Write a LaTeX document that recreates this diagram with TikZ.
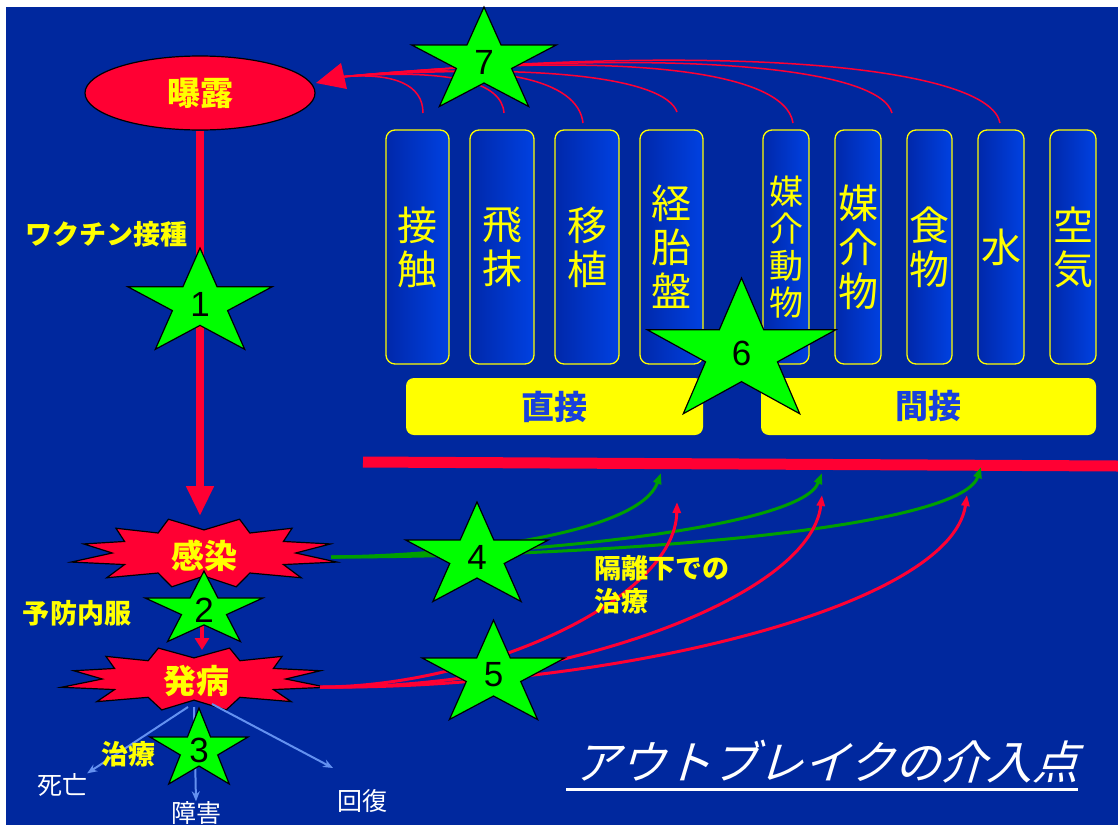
\documentclass[tikz,border=0pt]{standalone}
\usepackage{fontspec}
\newfontfamily\jp{Noto Sans CJK JP}
\newfontfamily\jpsl{Noto Sans CJK JP}[FakeSlant=0.3]
\newfontfamily\arialf{Liberation Sans}
\usetikzlibrary{arrows.meta,shapes.geometric}
\definecolor{bgblue}{RGB}{0,40,158}
\definecolor{myred}{RGB}{255,0,51}
\definecolor{myyellow}{RGB}{255,255,0}
\definecolor{stargreen}{RGB}{0,255,0}
\definecolor{arrgreen}{RGB}{0,160,0}
\definecolor{ltblue}{RGB}{100,145,240}
\definecolor{colA}{RGB}{0,40,170}
\definecolor{colB}{RGB}{0,65,225}
\definecolor{barblue}{RGB}{25,65,220}
% green five-pointed star: name, cx, cy, rx, ry, label
\newcommand\gstar[6]{%
  \pgfmathsetmacro\rxo{#4}\pgfmathsetmacro\ryo{#5}%
  \pgfmathsetmacro\rxi{0.382*#4}\pgfmathsetmacro\ryi{0.382*#5}%
  \begin{scope}[shift={(#2,#3)}]
    \filldraw[starsty] (90:\rxo pt and \ryo pt) -- (126:\rxi pt and \ryi pt)
      -- (162:\rxo pt and \ryo pt) -- (198:\rxi pt and \ryi pt)
      -- (234:\rxo pt and \ryo pt) -- (270:\rxi pt and \ryi pt)
      -- (306:\rxo pt and \ryo pt) -- (342:\rxi pt and \ryi pt)
      -- (18:\rxo pt and \ryo pt) -- (54:\rxi pt and \ryi pt) -- cycle;
  \end{scope}
  \node[numsty] (#1) at (#2,#3) {#6};%
}
% explosion burst: cx, cy, rx, ry
\newcommand\mkburst[4]{%
  \begin{scope}[shift={(#1,#2)}]
    \filldraw[burststy] (15:#3pt and #4pt)
      \foreach \k [evaluate=\k as \a using 15+\k*15,
                   evaluate=\k as \fx using {mod(\k,2)==0 ? #3*(1-0.07*sin(3*\a)) : 0.7*#3},
                   evaluate=\k as \fy using {mod(\k,2)==0 ? #4 : 0.66*#4}] in {1,...,23}
      { -- (\a:\fx pt and \fy pt) } -- cycle;
  \end{scope}%
}
\begin{document}
\begin{tikzpicture}[x=1pt,y=-1pt,
  burststy/.style={fill=myred,draw=black,line width=1.2pt},
  starsty/.style={fill=stargreen,draw=black,line width=1.2pt},
  numsty/.style={font=\arialf\fontsize{35}{35}\selectfont,text=black,inner sep=0pt},
  boldlbl/.style={font=\jp\bfseries\fontsize{27}{33}\selectfont,text=myyellow,inner sep=0pt},
  bursttxt/.style={font=\jp\bfseries\fontsize{33}{33}\selectfont,text=myyellow,inner sep=0pt},
  colbox/.style={draw=myyellow,line width=1.3pt,rounded corners=9pt,left color=colA,right color=colB,
                 minimum height=234pt,text=myyellow,align=center,inner sep=0pt,
                 font=\jp\fontsize{40}{44}\selectfont},
  bar/.style={fill=myyellow,rounded corners=8pt,minimum height=57pt,text=barblue,
              font=\jp\bfseries\fontsize{33}{33}\selectfont,inner sep=0pt},
  outcome/.style={font=\jp\fontsize{25}{25}\selectfont,text=white,inner sep=0pt},
  thinred/.style={myred,line width=1.5pt},
  greenarr/.style={arrgreen,line width=3pt,-{Triangle[length=11pt,width=8pt]}},
  redarr/.style={myred,line width=3pt,-{Triangle[length=11pt,width=8pt]}},
  bluearr/.style={ltblue,line width=2pt,-{Stealth[length=10pt,width=8pt]}}]
\useasboundingbox (0,0) rectangle (1118,825);
\fill[white] (0,0) rectangle (1118,825);
\fill[bgblue] (6,7) rectangle (1118,825);

% ---- exposure ellipse and route curves
\node[ellipse,fill=myred,draw=black,line width=1.2pt,minimum width=230pt,minimum height=74pt,
      text=myyellow,font=\jp\bfseries\fontsize{33}{33}\selectfont,inner sep=0pt] (expo) at (200,93) {曝露};
\coordinate (conv) at (340,77);
\coordinate (exTip) at (316,83);
\coordinate (t1) at (423,113);
\coordinate (t2) at (504,113);
\coordinate (t3) at (583,123);
\coordinate (t4) at (677,112);
\coordinate (t5) at (793,123);
\coordinate (t6) at (892,113);
\coordinate (t7) at (1000,123);
\draw[thinred] (t1) .. controls (423,85) and (395,72) .. (conv);
\draw[thinred] (t2) .. controls (502,82) and (450,68) .. (conv);
\draw[thinred] (t3) .. controls (578,80) and (500,60) .. (conv);
\draw[thinred] (t4) .. controls (665,78) and (540,62) .. (conv);
\draw[thinred] (t5) .. controls (785,70) and (620,50) .. (conv);
\draw[thinred] (t6) .. controls (880,68) and (680,46) .. (conv);
\draw[thinred] (t7) .. controls (990,68) and (740,40) .. (conv);
\fill[myred] (exTip) -- (341,63) -- (347,89) -- cycle;
\gstar{s7}{484}{62}{76}{55}{7}

% ---- route columns
\node[colbox,minimum width=63pt] (c1) at (417.5,247) {接\\触};
\node[colbox,minimum width=64pt] (c2) at (502,247) {飛\\抹};
\node[colbox,minimum width=64pt] (c3) at (587,247) {移\\植};
\node[colbox,minimum width=63pt] (c4) at (671.5,247) {経\\胎\\盤};
\node[colbox,minimum width=46pt,font=\jp\fontsize{34}{37}\selectfont] (c5) at (786,247) {媒\\介\\動\\物};
\node[colbox,minimum width=46pt] (c6) at (858,247) {媒\\介\\物};
\node[colbox,minimum width=45pt] (c7) at (929.5,247) {食\\物};
\node[colbox,minimum width=46pt] (c8) at (1001,247) {水};
\node[colbox,minimum width=46pt] (c9) at (1073,247) {空\\気};
\node[bar,minimum width=297pt] (direct) at (554.5,406.5) {直接};
\node[bar,minimum width=335pt] (indirect) at (928.5,406.5) {間接};
\gstar{s6}{741.5}{353}{99}{75}{6}

% ---- red barrier line
\coordinate (hl1) at (363,462);
\coordinate (hl2) at (1118,466);
\draw[myred,line width=11pt] (hl1) -- (hl2);

% ---- main vertical chain
\coordinate (infTop) at (200,516);
\draw[myred,line width=8pt,-{Triangle[length=30pt,width=26pt]}] (expo.south) -- (infTop);
\mkburst{204}{553}{131}{35}
\node[bursttxt] (inf) at (204,556) {感染};
\mkburst{194}{679}{131}{32}
\node[bursttxt] (dis) at (196,681) {発病};
\coordinate (infBot) at (202,585);
\coordinate (disTop) at (202,650);
\draw[myred,line width=4pt,-{Triangle[length=12pt,width=14pt]}] (infBot) -- (disTop);

% ---- outcomes
\node[outcome] (death) at (62,785) {死亡};
\node[outcome] (harm) at (196,813) {障害};
\node[outcome] (rec) at (362,801) {回復};
\coordinate (db1) at (188,707);
\coordinate (db2) at (194,707);
\coordinate (db3) at (212,704);
\coordinate (recArr) at (333,768);
\draw[bluearr] (db1) -- (death.north east);
\draw[bluearr] (db2) -- (harm.north);
\draw[bluearr] (db3) -- (recArr);

% ---- curves to the barrier
\coordinate (g0) at (331,557);
\coordinate (g1) at (661,473);
\coordinate (g2) at (822,473);
\coordinate (g3) at (981,467);
\draw[greenarr] (g0) .. controls (480,555) and (640,530) .. (g1);
\draw[greenarr] (g0) .. controls (500,557) and (800,530) .. (g2);
\draw[greenarr] (g0) .. controls (600,557) and (960,530) .. (g3);
\coordinate (r0) at (320,687);
\coordinate (r1) at (677,502);
\coordinate (r2) at (822,495);
\coordinate (r3) at (967,495);
\draw[redarr] (r0) .. controls (480,687) and (675,600) .. (r1);
\draw[redarr] (r0) .. controls (550,690) and (810,600) .. (r2);
\draw[redarr] (r0) .. controls (600,690) and (950,610) .. (r3);

% ---- stars on the chain
\gstar{s1}{200}{304}{76}{56}{1}
\gstar{s2}{204}{610}{62}{39}{2}
\gstar{s3}{199}{750}{51.5}{42}{3}
\gstar{s4}{477}{557}{75}{55}{4}
\gstar{s5}{493.5}{675}{75}{55}{5}

% ---- labels
\node[boldlbl] (vac) at (106,234) {ワクチン接種};
\node[boldlbl] (prop) at (77,613) {予防内服};
\node[boldlbl] (treat) at (128,754) {治療};
\node[boldlbl,align=left,anchor=west] (iso) at (594,585) {隔離下での\\治療};

% ---- title
\node[font=\jpsl\fontsize{46}{46}\selectfont,text=white,inner sep=0pt] (title) at (826,762) {アウトブレイクの介入点};
\coordinate (ul1) at (566,789);
\coordinate (ul2) at (1078,789);
\draw[white,line width=3pt] (ul1) -- (ul2);
\end{tikzpicture}
\end{document}
